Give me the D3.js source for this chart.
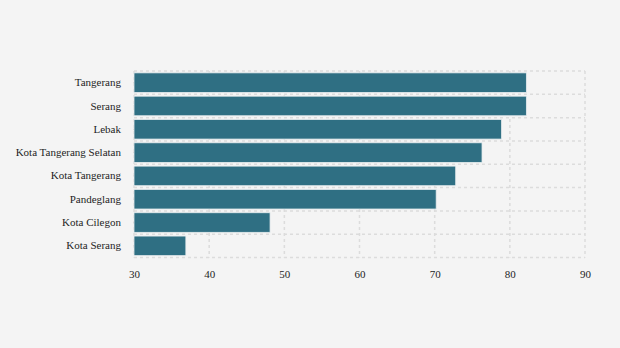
<!DOCTYPE html>
<html>
<head>
<meta charset="utf-8">
<script src="https://cdn.jsdelivr.net/npm/d3@7"></script>
<style>
  html, body { margin: 0; padding: 0; background: #f4f4f4; }
  svg { display: block; }
</style>
</head>
<body>
<svg id="chart" width="620" height="348"></svg>
<script>
// Regions of Banten and their values
const categories = ["Tangerang", "Serang", "Lebak", "Kota Tangerang Selatan",
  "Kota Tangerang", "Pandeglang", "Kota Cilegon", "Kota Serang"];
const values = [82.2, 82.2, 78.9, 76.3, 72.8, 70.2, 48.1, 36.9];
const xTicks = [30, 40, 50, 60, 70, 80, 90];

const FONT = "'Liberation Serif', 'Times New Roman', serif";

const svg = d3.select("#chart");
const margin = { top: 71, right: 35, bottom: 90.5, left: 134 };
const width = 620 - margin.left - margin.right;
const height = 348 - margin.top - margin.bottom;

const g = svg.append("g").attr("transform", `translate(${margin.left},${margin.top})`);

const x = d3.scaleLinear().domain([30, 90]).range([0, width]);
const y = d3.scaleBand().domain(categories).range([0, height]).paddingInner(0.16).paddingOuter(0.08);

const gridColor = "#dcdcdc";
const dash = "3,3";

// vertical grid lines
g.append("g").selectAll("line").data(xTicks).join("line")
  .attr("x1", d => x(d)).attr("x2", d => x(d))
  .attr("y1", 0).attr("y2", height)
  .attr("stroke", gridColor).attr("stroke-width", 1.5).attr("stroke-dasharray", dash);

// horizontal grid lines on band boundaries
const step = height / categories.length;
g.append("g").selectAll("line").data(d3.range(categories.length + 1)).join("line")
  .attr("x1", 0).attr("x2", width)
  .attr("y1", d => d * step).attr("y2", d => d * step)
  .attr("stroke", gridColor).attr("stroke-width", 1.5).attr("stroke-dasharray", dash);

// bars
g.append("g").selectAll("rect").data(categories).join("rect")
  .attr("x", x(30))
  .attr("y", d => y(d))
  .attr("width", (d, i) => x(values[i]) - x(30))
  .attr("height", y.bandwidth())
  .attr("fill", "#2f6f83")
  .attr("stroke", "#e6ecee")
  .attr("stroke-width", 0.8);

// y axis
const yAxis = g.append("g").call(d3.axisLeft(y).tickSize(6).tickPadding(7))
  .attr("font-family", FONT).attr("font-size", 11);
yAxis.select(".domain").remove();
yAxis.selectAll(".tick line").attr("stroke", "#d8d8d8").attr("x2", -1);
yAxis.selectAll("text").attr("fill", "#1e1e1e");

// x axis
const xAxis = g.append("g").attr("transform", `translate(0,${height})`)
  .call(d3.axisBottom(x).tickValues(xTicks).tickSize(0).tickPadding(13))
  .attr("font-family", FONT).attr("font-size", 11);
xAxis.select(".domain").remove();
xAxis.selectAll("text").attr("fill", "#1e1e1e");
</script>
</body>
</html>
